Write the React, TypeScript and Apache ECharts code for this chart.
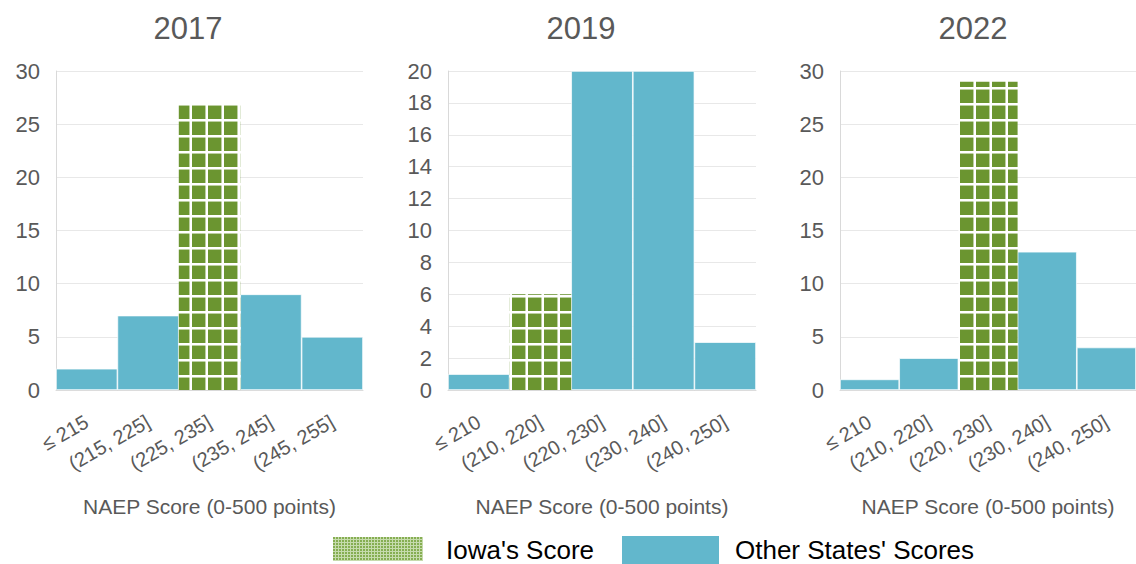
import React, { useEffect, useRef } from "react";
import * as echarts from "echarts";

const years = ["2017", "2019", "2022"];
const categories2017 = ["≤ 215", "(215, 225]", "(225, 235]", "(235, 245]", "(245, 255]"];
const categories2019 = ["≤ 210", "(210, 220]", "(220, 230]", "(230, 240]", "(240, 250]"];
const categories2022 = ["≤ 210", "(210, 220]", "(220, 230]", "(230, 240]", "(240, 250]"];
const other2017 = [2, 7, null, 9, 5];
const iowa2017 = [null, null, 27, null, null];
const other2019 = [1, null, 20, 20, 3];
const iowa2019 = [null, 6, null, null, null];
const other2022 = [1, 3, null, 13, 4];
const iowa2022 = [null, null, 29, null, null];
const yMax = [30, 20, 30];
const yInterval = [5, 2, 5];
const xAxisTitle = "NAEP Score (0-500 points)";
const legendLabels = ["Iowa's Score", "Other States' Scores"];

const FONT = "'Liberation Sans', Arial, sans-serif";
const BLUE = "#62b7cc";
const GREEN = "#6b9530";
const TEXT = "#595959";

const panels = [
  { cats: categories2017, other: other2017, iowa: iowa2017, left: 56, width: 307, titleX: 188 },
  { cats: categories2019, other: other2019, iowa: iowa2019, left: 448, width: 308, titleX: 581 },
  { cats: categories2022, other: other2022, iowa: iowa2022, left: 840, width: 307, titleX: 973 },
];

function bigPattern(): string {
  const c = document.createElement("canvas");
  c.width = 16;
  c.height = 16;
  const ctx = c.getContext("2d")!;
  ctx.fillStyle = GREEN;
  ctx.fillRect(0, 0, 16, 16);
  ctx.fillStyle = "#ffffff";
  ctx.fillRect(14, 0, 2, 16);
  ctx.fillRect(0, 7, 16, 2);
  ctx.fillStyle = "rgba(255,255,255,0.55)";
  ctx.fillRect(13, 0, 1, 16);
  ctx.fillRect(0, 9, 16, 1);
  return c.toDataURL();
}

function smallPattern(): string {
  const c = document.createElement("canvas");
  c.width = 3;
  c.height = 3;
  const ctx = c.getContext("2d")!;
  ctx.fillStyle = "#86ae52";
  ctx.fillRect(0, 0, 3, 3);
  ctx.fillStyle = "#c6dbad";
  ctx.fillRect(2, 0, 1, 3);
  ctx.fillRect(0, 2, 3, 1);
  return c.toDataURL();
}

export default function App() {
  const ref = useRef<HTMLDivElement>(null);
  useEffect(() => {
    if (!ref.current) return;
    const chart = echarts.init(ref.current, undefined, { renderer: "svg" });
    const pat: any = { image: bigPattern(), repeat: "repeat", imageWidth: 16, imageHeight: 16 };
    const patSmall: any = { image: smallPattern(), repeat: "repeat", imageWidth: 3, imageHeight: 3 };

    const grid = panels.map((p) => ({ left: p.left, width: p.width, top: 71, height: 319 }));
    const xAxis = panels.map((p, i) => ({
      type: "category",
      gridIndex: i,
      data: p.cats,
      axisTick: { show: false },
      axisLine: { show: true, lineStyle: { color: "#d9d9d9", width: 1 } },
      axisLabel: { rotate: 30, fontSize: 20, color: TEXT, margin: 30, interval: 0, fontFamily: FONT },
      name: xAxisTitle,
      nameLocation: "middle",
      nameGap: 106,
      nameMoveOverlap: false,
      nameTextStyle: { fontSize: 21, color: TEXT, fontFamily: FONT },
    }));
    const yAxis = panels.map((p, i) => ({
      type: "value",
      gridIndex: i,
      min: 0,
      max: yMax[i],
      interval: yInterval[i],
      axisLine: { show: true, lineStyle: { color: "#d9d9d9", width: 1 } },
      axisTick: { show: false },
      splitLine: { show: true, lineStyle: { color: "#e8e8e8", width: 1 } },
      axisLabel: { fontSize: 22, color: TEXT, margin: 16, fontFamily: FONT },
    }));
    const series: any[] = [];
    panels.forEach((p, i) => {
      series.push({
        type: "bar",
        name: legendLabels[1],
        xAxisIndex: i,
        yAxisIndex: i,
        data: p.other,
        barGap: "-100%",
        barCategoryGap: "0%",
        itemStyle: { color: BLUE, borderColor: "#ffffff", borderWidth: 0.7 },
      });
      series.push({
        type: "bar",
        name: legendLabels[0],
        xAxisIndex: i,
        yAxisIndex: i,
        data: p.iowa,
        barGap: "-100%",
        barCategoryGap: "0%",
        itemStyle: { color: pat },
      });
    });

    const graphic: any[] = panels.map((p, i) => ({
      type: "text",
      x: p.titleX,
      y: 28,
      style: {
        text: years[i],
        fill: TEXT,
        fontSize: 31,
        fontFamily: FONT,
        align: "center",
        verticalAlign: "middle",
        textAlign: "center",
        textVerticalAlign: "middle",
      },
    }));
    graphic.push(
      { type: "rect", shape: { x: 333, y: 537, width: 90, height: 24 }, style: { fill: patSmall } },
      {
        type: "text",
        x: 446,
        y: 550,
        style: { text: legendLabels[0], fill: "#000", fontSize: 26, lineHeight: 26, fontFamily: FONT, verticalAlign: "middle", textVerticalAlign: "middle" },
      },
      { type: "rect", shape: { x: 622, y: 536, width: 97, height: 28 }, style: { fill: BLUE } },
      {
        type: "text",
        x: 735,
        y: 550,
        style: { text: legendLabels[1], fill: "#000", fontSize: 26, lineHeight: 26, fontFamily: FONT, verticalAlign: "middle", textVerticalAlign: "middle" },
      }
    );

    chart.setOption({
      animation: false,
      backgroundColor: "#ffffff",
      textStyle: { fontFamily: FONT },
      grid,
      xAxis,
      yAxis,
      series,
      graphic,
    } as any);
    return () => chart.dispose();
  }, []);
  return (
    <div
      ref={ref}
      style={{ position: "absolute", left: 0, top: 0, width: 1136, height: 564 }}
    />
  );
}
